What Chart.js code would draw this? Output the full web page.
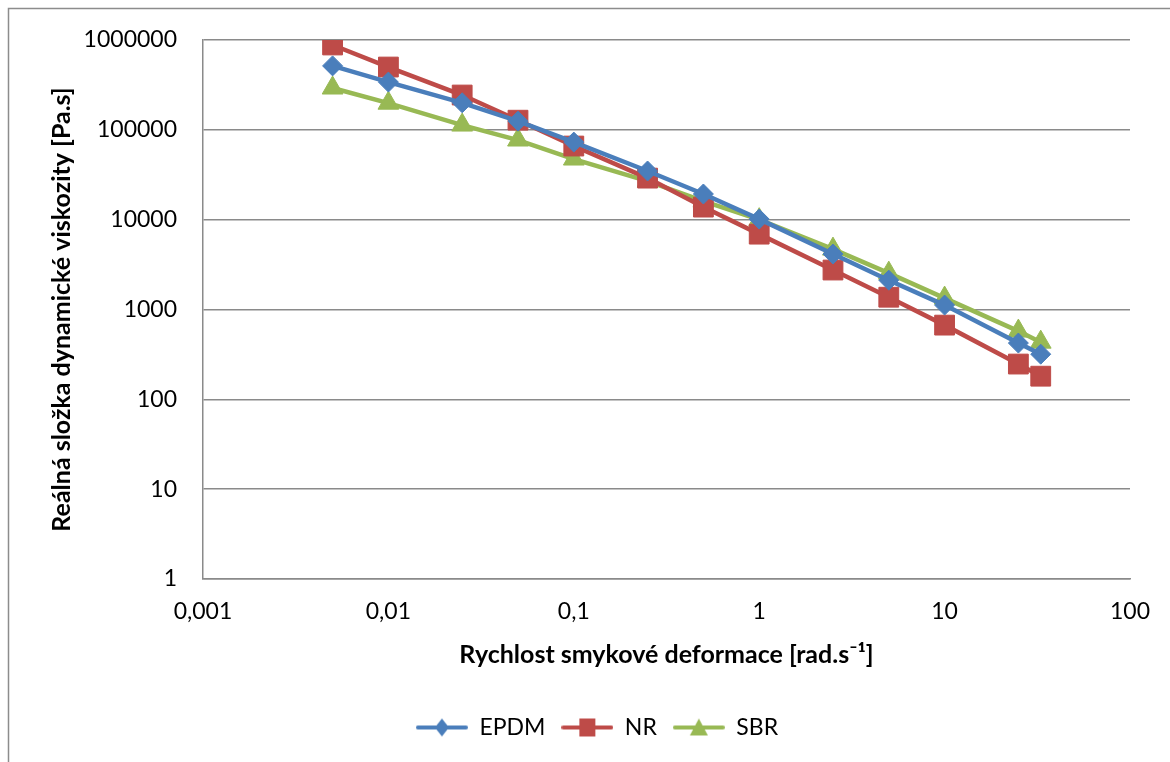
<!DOCTYPE html>
<html>
<head>
<meta charset="utf-8">
<script src="https://cdn.jsdelivr.net/npm/chart.js@4/dist/chart.umd.min.js"></script>
<style>
  html, body { margin: 0; padding: 0; background: #ffffff; overflow: hidden; }
  #wrap { position: relative; width: 1170px; height: 762px; }
</style>
</head>
<body>
<div id="wrap"><canvas id="c" width="1170" height="762"></canvas></div>
<script>
// Shear rate [rad/s]
const shearRate = [0.005, 0.01, 0.025, 0.05, 0.1, 0.25, 0.5, 1, 2.5, 5, 10, 25, 33];
// Real part of dynamic viscosity [Pa.s]
const epdm = [515000, 340000, 200000, 125000, 73000, 34800, 19300, 10150, 4140, 2120, 1120, 423, 318];
const nr   = [880000, 500000, 244000, 128000, 66000, 29000, 13800, 6900, 2750, 1370, 670, 247, 181];
const sbr  = [292000, 198000, 113000, 77000, 47300, 26900, 16100, 10000, 4700, 2540, 1340, 575, 433];

const seriesNames = ['EPDM', 'NR', 'SBR'];
const xTickValues = [0.001, 0.01, 0.1, 1, 10, 100];
const xTickLabels = ['0,001', '0,01', '0,1', '1', '10', '100'];
const yTickValues = [1, 10, 100, 1000, 10000, 100000, 1000000];
const yTickLabels = ['1', '10', '100', '1000', '10000', '100000', '1000000'];

const xTitle = 'Rychlost smykové deformace [rad.s\u207B\u00B9]';
const yTitle = 'Reálná složka dynamické viskozity [Pa.s]';

const colors = ['#4A7EBB', '#BE4B48', '#98B954'];
const styles = ['rectRot', 'rect', 'triangle'];
const radii = [10, 14, 12];

const FONT = 'Lato, "Open Sans", "DejaVu Sans", sans-serif';
const LEG_W = 52;

function legendImage(color, style) {
  const cv = document.createElement('canvas');
  cv.width = LEG_W; cv.height = 24;
  const g = cv.getContext('2d');
  g.strokeStyle = color; g.lineWidth = 4; g.lineCap = 'round';
  g.beginPath(); g.moveTo(2, 12); g.lineTo(LEG_W - 2, 12); g.stroke();
  g.fillStyle = color;
  g.beginPath();
  const cx = LEG_W / 2, cy = 12;
  if (style === 'rectRot') {
    g.moveTo(cx - 7, cy); g.lineTo(cx, cy - 9); g.lineTo(cx + 7, cy); g.lineTo(cx, cy + 9);
  } else if (style === 'rect') {
    g.rect(cx - 8, cy - 9, 16, 18);
  } else {
    g.moveTo(cx, cy - 9); g.lineTo(cx + 9, cy + 8); g.lineTo(cx - 9, cy + 8);
  }
  g.closePath(); g.fill();
  return cv;
}

const valueSets = [epdm, nr, sbr];
const datasets = seriesNames.map((name, i) => ({
  label: name,
  data: shearRate.map((x, k) => ({ x: x, y: valueSets[i][k] })),
  showLine: true,
  borderColor: colors[i],
  backgroundColor: colors[i],
  borderWidth: 4.5,
  tension: 0,
  pointStyle: styles[i],
  pointRadius: radii[i],
  pointHoverRadius: radii[i],
  pointBorderWidth: 1,
  pointBorderColor: colors[i],
  pointBackgroundColor: colors[i],
  legendImg: legendImage(colors[i], styles[i])
}));

const framePlugin = {
  id: 'frame',
  beforeDraw(chart) {
    const ctx = chart.ctx;
    ctx.save();
    ctx.strokeStyle = '#8c8c8c';
    ctx.lineWidth = 1.5;
    ctx.strokeRect(8.5, 8.5, 1300, 900);
    ctx.restore();
  }
};

new Chart(document.getElementById('c'), {
  type: 'scatter',
  data: { datasets: datasets },
  plugins: [framePlugin],
  options: {
    responsive: false,
    animation: false,
    devicePixelRatio: 1,
    layout: { padding: { left: 64, right: 40, top: 40, bottom: 13 } },
    plugins: {
      tooltip: { enabled: false },
      legend: {
        position: 'bottom',
        labels: {
          usePointStyle: true,
          pointStyleWidth: LEG_W,
          boxHeight: 23,
          padding: 16,
          color: '#000000',
          font: { family: FONT, size: 23 },
          generateLabels(chart) {
            return chart.data.datasets.map((ds, i) => ({
              text: ds.label,
              pointStyle: ds.legendImg,
              fillStyle: ds.borderColor,
              strokeStyle: ds.borderColor,
              lineWidth: 0,
              hidden: false,
              datasetIndex: i,
              fontColor: '#000000'
            }));
          }
        }
      }
    },
    scales: {
      x: {
        type: 'logarithmic',
        position: 'bottom',
        min: 0.001,
        max: 100,
        afterBuildTicks(scale) { scale.ticks = xTickValues.map(v => ({ value: v })); },
        afterFit(scale) { scale.height = 121; },
        ticks: {
          autoSkip: false,
          maxRotation: 0,
          padding: 19,
          color: '#000000',
          font: { family: FONT, size: 23 },
          callback(value) { const k = xTickValues.indexOf(value); return k >= 0 ? xTickLabels[k] : ''; }
        },
        grid: { display: false, drawTicks: false },
        border: { display: true, color: '#8a8a8a', width: 1.5 },
        title: {
          display: true,
          text: xTitle,
          color: '#000000',
          font: { family: FONT, size: 25, weight: 'bold' },
          padding: { top: 0, bottom: 30 }
        }
      },
      y: {
        type: 'logarithmic',
        position: 'left',
        min: 1,
        max: 1000000,
        afterBuildTicks(scale) { scale.ticks = yTickValues.map(v => ({ value: v })); },
        afterFit(scale) { scale.width = 139; },
        ticks: {
          autoSkip: false,
          padding: 26,
          color: '#000000',
          font: { family: FONT, size: 23 },
          callback(value) { const k = yTickValues.indexOf(value); return k >= 0 ? yTickLabels[k] : ''; }
        },
        grid: { display: true, drawTicks: false, color: '#8a8a8a', lineWidth: 1.5 },
        border: { display: true, color: '#8a8a8a', width: 1.5 },
        title: {
          display: true,
          text: yTitle,
          color: '#000000',
          font: { family: FONT, size: 25, weight: 'bold' },
          padding: { top: -17, bottom: 0 }
        }
      }
    }
  }
});
</script>
</body>
</html>
